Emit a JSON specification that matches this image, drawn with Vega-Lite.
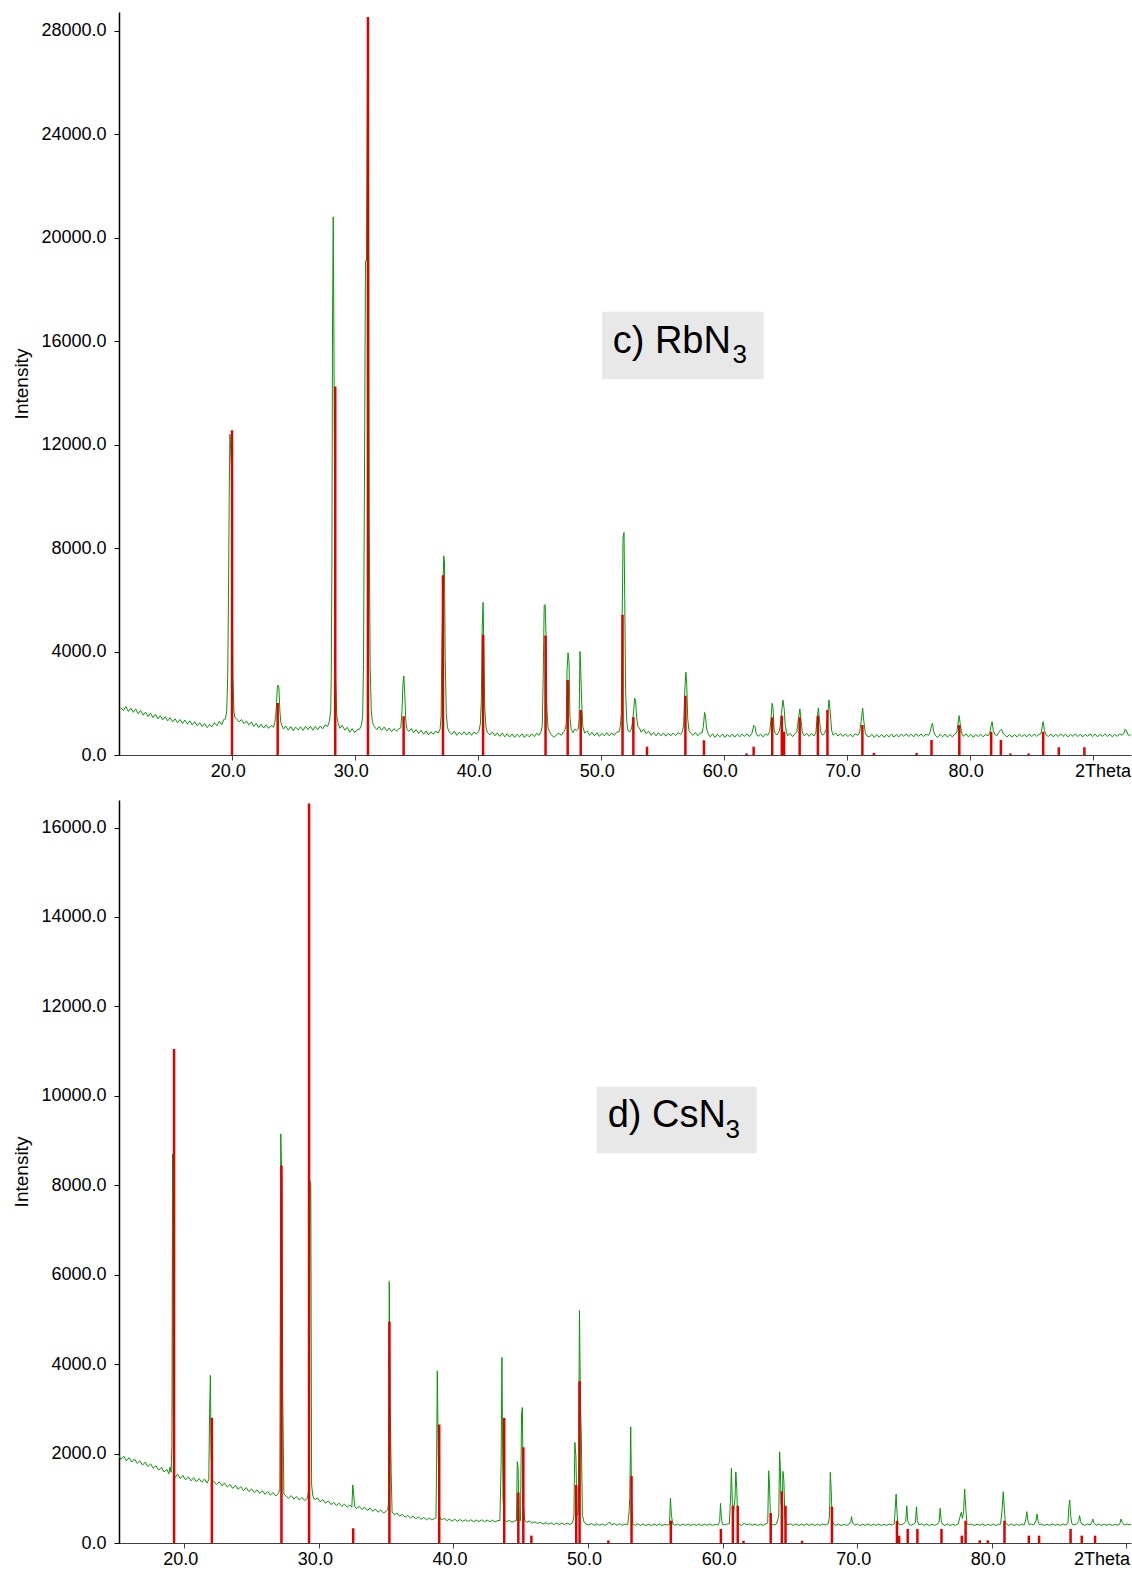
{
  "$schema": "https://vega.github.io/schema/vega-lite/v6.json",
  "padding": {"left": 12, "top": 12, "right": 2, "bottom": 2},
  "background": "white",
  "spacing": 45,
  "bounds": "flush",
  "config": {
    "view": {"stroke": null},
    "font": "Liberation Sans",
    "axis": {
      "grid": false,
      "labelFont": "Liberation Sans",
      "labelFontSize": 18,
      "labelColor": "#000000",
      "titleFont": "Liberation Sans",
      "titleFontWeight": "normal",
      "titleColor": "#000000",
      "tickSize": 5,
      "labelOverlap": false
    },
    "axisX": {"labelFlush": false, "labelPadding": 2, "domainColor": "#404040", "tickColor": "#404040"},
    "axisY": {"labelPadding": 8, "domainColor": "#000000", "tickColor": "#000000", "domainWidth": 1.5, "titleFontSize": 19, "titlePadding": 9}
  },
  "datasets": {
    "rb_profile": [
      {"t":11.0,"i":1820},{"t":11.2,"i":1720},{"t":11.4,"i":1870},{"t":11.6,"i":1680},{"t":11.8,"i":1810},{"t":12.0,"i":1650},{"t":12.2,"i":1780},{"t":12.4,"i":1600},{"t":12.6,"i":1720},{"t":12.8,"i":1540},{"t":13.0,"i":1660},{"t":13.2,"i":1490},{"t":13.4,"i":1620},{"t":13.6,"i":1440},{"t":13.8,"i":1570},{"t":14.0,"i":1400},{"t":14.2,"i":1520},{"t":14.4,"i":1360},{"t":14.6,"i":1480},{"t":14.8,"i":1320},{"t":15.0,"i":1440},{"t":15.2,"i":1280},{"t":15.4,"i":1400},{"t":15.6,"i":1250},{"t":15.8,"i":1370},{"t":16.0,"i":1220},{"t":16.2,"i":1350},{"t":16.4,"i":1190},{"t":16.6,"i":1320},{"t":16.8,"i":1160},{"t":17.0,"i":1290},{"t":17.2,"i":1130},{"t":17.4,"i":1250},{"t":17.6,"i":1100},{"t":17.8,"i":1220},{"t":18.0,"i":1060},{"t":18.2,"i":1180},{"t":18.4,"i":1090},{"t":18.6,"i":1250},{"t":18.8,"i":1130},{"t":19.0,"i":1300},{"t":19.2,"i":1170},{"t":19.35,"i":1370},{"t":19.5,"i":1400},
      {"t":19.6,"i":1700},{"t":19.68,"i":3100},{"t":19.74,"i":6000},{"t":19.8,"i":10000},{"t":19.86,"i":12400},{"t":19.92,"i":11800},{"t":19.98,"i":11200},{"t":20.04,"i":7800},{"t":20.1,"i":3000},{"t":20.18,"i":1700},{"t":20.26,"i":1450},
      {"t":20.4,"i":1400},{"t":20.6,"i":1280},{"t":20.8,"i":1370},{"t":21.0,"i":1210},{"t":21.2,"i":1320},{"t":21.4,"i":1160},{"t":21.6,"i":1280},{"t":21.8,"i":1100},{"t":22.0,"i":1220},{"t":22.2,"i":1060},{"t":22.4,"i":1190},{"t":22.6,"i":1040},{"t":22.8,"i":1170},{"t":23.0,"i":1030},{"t":23.2,"i":1140},{"t":23.4,"i":1070},
      {"t":23.5,"i":1250},{"t":23.58,"i":1500},{"t":23.64,"i":1900},{"t":23.7,"i":2500},{"t":23.76,"i":2700},{"t":23.84,"i":2600},{"t":23.92,"i":1700},{"t":24.0,"i":1250},
      {"t":24.2,"i":1000},{"t":24.4,"i":1120},{"t":24.6,"i":960},{"t":24.8,"i":1100},{"t":25.0,"i":940},{"t":25.2,"i":1080},{"t":25.4,"i":970},{"t":25.6,"i":1090},{"t":25.8,"i":950},{"t":26.0,"i":1100},{"t":26.2,"i":980},{"t":26.4,"i":1110},{"t":26.6,"i":960},{"t":26.8,"i":1100},{"t":27.0,"i":980},{"t":27.2,"i":1120},{"t":27.4,"i":1010},{"t":27.6,"i":1170},{"t":27.8,"i":1100},{"t":27.95,"i":1300},
      {"t":28.05,"i":1700},{"t":28.1,"i":3200},{"t":28.15,"i":7500},{"t":28.2,"i":16700},{"t":28.26,"i":20800},{"t":28.32,"i":15400},{"t":28.38,"i":8000},{"t":28.45,"i":3000},{"t":28.55,"i":1500},{"t":28.65,"i":1250},
      {"t":28.8,"i":1030},{"t":29.0,"i":1140},{"t":29.2,"i":960},{"t":29.4,"i":1070},{"t":29.6,"i":880},{"t":29.8,"i":1020},{"t":30.0,"i":860},{"t":30.2,"i":980},{"t":30.4,"i":1000},{"t":30.55,"i":1150},
      {"t":30.65,"i":1500},{"t":30.72,"i":3500},{"t":30.8,"i":10900},{"t":30.88,"i":19100},{"t":30.96,"i":19100},{"t":31.04,"i":26000},{"t":31.12,"i":28000},{"t":31.18,"i":9200},{"t":31.26,"i":3500},{"t":31.35,"i":1700},{"t":31.45,"i":1250},
      {"t":31.6,"i":1100},{"t":31.8,"i":980},{"t":32.0,"i":1100},{"t":32.2,"i":960},{"t":32.4,"i":1080},{"t":32.6,"i":930},{"t":32.8,"i":1040},{"t":33.0,"i":900},{"t":33.2,"i":1020},{"t":33.4,"i":920},{"t":33.6,"i":1020},
      {"t":33.75,"i":1050},{"t":33.85,"i":1700},{"t":33.93,"i":2800},{"t":34.0,"i":3050},{"t":34.08,"i":2300},{"t":34.16,"i":1300},{"t":34.25,"i":1000},
      {"t":34.4,"i":910},{"t":34.6,"i":1020},{"t":34.8,"i":860},{"t":35.0,"i":980},{"t":35.2,"i":830},{"t":35.4,"i":960},{"t":35.6,"i":800},{"t":35.8,"i":930},{"t":36.0,"i":780},{"t":36.2,"i":900},{"t":36.4,"i":800},{"t":36.6,"i":920},{"t":36.8,"i":850},
      {"t":36.95,"i":1000},{"t":37.03,"i":1500},{"t":37.1,"i":4300},{"t":37.17,"i":6200},{"t":37.24,"i":7700},{"t":37.3,"i":7500},{"t":37.36,"i":3800},{"t":37.45,"i":1600},{"t":37.55,"i":1050},
      {"t":37.7,"i":880},{"t":37.9,"i":800},{"t":38.1,"i":920},{"t":38.3,"i":760},{"t":38.5,"i":880},{"t":38.7,"i":780},{"t":38.9,"i":900},{"t":39.1,"i":770},{"t":39.3,"i":890},{"t":39.5,"i":760},{"t":39.7,"i":880},{"t":39.9,"i":820},{"t":40.1,"i":920},
      {"t":40.22,"i":1200},{"t":40.3,"i":2100},{"t":40.37,"i":4900},{"t":40.44,"i":5900},{"t":40.5,"i":4300},{"t":40.58,"i":1800},{"t":40.68,"i":1050},
      {"t":40.8,"i":860},{"t":41.0,"i":780},{"t":41.2,"i":890},{"t":41.4,"i":740},{"t":41.6,"i":860},{"t":41.8,"i":720},{"t":42.0,"i":850},{"t":42.2,"i":700},{"t":42.4,"i":820},{"t":42.6,"i":690},{"t":42.8,"i":810},{"t":43.0,"i":680},{"t":43.2,"i":800},{"t":43.4,"i":700},{"t":43.6,"i":820},{"t":43.8,"i":680},{"t":44.0,"i":800},{"t":44.2,"i":700},{"t":44.4,"i":820},{"t":44.6,"i":710},{"t":44.8,"i":840},{"t":45.0,"i":760},
      {"t":45.15,"i":900},{"t":45.25,"i":1100},{"t":45.33,"i":3000},{"t":45.41,"i":5800},{"t":45.49,"i":5800},{"t":45.56,"i":4600},{"t":45.63,"i":1800},{"t":45.72,"i":1050},
      {"t":45.85,"i":900},{"t":46.0,"i":780},{"t":46.2,"i":680},{"t":46.4,"i":780},{"t":46.6,"i":840},{"t":46.8,"i":760},{"t":47.0,"i":900},
      {"t":47.12,"i":1000},{"t":47.2,"i":1200},{"t":47.27,"i":3300},{"t":47.35,"i":3950},{"t":47.43,"i":3600},{"t":47.5,"i":1500},{"t":47.6,"i":1000},
      {"t":47.75,"i":860},{"t":47.9,"i":1000},{"t":48.05,"i":940},
      {"t":48.18,"i":1000},{"t":48.25,"i":1400},{"t":48.32,"i":4000},{"t":48.38,"i":3300},{"t":48.46,"i":2000},{"t":48.55,"i":1100},
      {"t":48.7,"i":850},{"t":48.9,"i":920},{"t":49.1,"i":760},{"t":49.3,"i":880},{"t":49.5,"i":740},{"t":49.7,"i":860},{"t":49.9,"i":720},{"t":50.1,"i":840},{"t":50.3,"i":740},{"t":50.5,"i":860},{"t":50.7,"i":740},{"t":50.9,"i":850},{"t":51.1,"i":760},{"t":51.3,"i":880},{"t":51.5,"i":900},
      {"t":51.6,"i":1100},{"t":51.68,"i":1600},{"t":51.75,"i":5300},{"t":51.82,"i":8400},{"t":51.9,"i":8600},{"t":51.96,"i":6000},{"t":52.03,"i":2500},{"t":52.12,"i":1300},{"t":52.22,"i":950},
      {"t":52.35,"i":880},{"t":52.5,"i":1000},
      {"t":52.6,"i":1300},{"t":52.68,"i":1700},{"t":52.76,"i":2200},{"t":52.84,"i":2100},{"t":52.92,"i":1500},{"t":53.02,"i":1100},
      {"t":53.15,"i":1050},{"t":53.3,"i":880},{"t":53.5,"i":1000},{"t":53.7,"i":830},{"t":53.9,"i":920},{"t":54.1,"i":760},{"t":54.3,"i":870},{"t":54.5,"i":740},{"t":54.7,"i":860},{"t":54.9,"i":740},{"t":55.1,"i":850},{"t":55.3,"i":730},{"t":55.5,"i":840},{"t":55.7,"i":740},{"t":55.9,"i":850},{"t":56.1,"i":750},{"t":56.3,"i":860},{"t":56.5,"i":790},
      {"t":56.65,"i":900},{"t":56.75,"i":1200},{"t":56.85,"i":2600},{"t":56.93,"i":3200},{"t":57.0,"i":2700},{"t":57.08,"i":1400},{"t":57.18,"i":950},
      {"t":57.3,"i":850},{"t":57.5,"i":760},{"t":57.7,"i":870},{"t":57.9,"i":740},{"t":58.1,"i":850},
      {"t":58.25,"i":850},{"t":58.35,"i":1100},{"t":58.45,"i":1650},{"t":58.52,"i":1500},{"t":58.62,"i":1000},{"t":58.75,"i":820},
      {"t":58.9,"i":700},{"t":59.1,"i":820},{"t":59.3,"i":680},{"t":59.5,"i":800},{"t":59.7,"i":700},{"t":59.9,"i":810},{"t":60.1,"i":680},{"t":60.3,"i":790},{"t":60.5,"i":700},{"t":60.7,"i":810},{"t":60.9,"i":690},{"t":61.1,"i":800},{"t":61.3,"i":700},{"t":61.5,"i":810},{"t":61.7,"i":720},{"t":61.9,"i":820},{"t":62.1,"i":710},{"t":62.3,"i":840},
      {"t":62.45,"i":1150},{"t":62.55,"i":1100},{"t":62.65,"i":820},
      {"t":62.8,"i":720},{"t":63.0,"i":810},{"t":63.2,"i":700},{"t":63.4,"i":820},{"t":63.6,"i":760},
      {"t":63.75,"i":900},{"t":63.85,"i":1400},{"t":63.94,"i":2000},{"t":64.02,"i":1800},{"t":64.1,"i":1000},{"t":64.2,"i":820},
      {"t":64.35,"i":780},{"t":64.5,"i":900},
      {"t":64.6,"i":1100},{"t":64.7,"i":1600},{"t":64.82,"i":2130},{"t":64.92,"i":1800},{"t":65.0,"i":1200},{"t":65.1,"i":900},
      {"t":65.2,"i":740},{"t":65.4,"i":840},{"t":65.6,"i":710},{"t":65.8,"i":820},
      {"t":65.95,"i":900},{"t":66.08,"i":1400},{"t":66.2,"i":1780},{"t":66.3,"i":1300},{"t":66.4,"i":850},
      {"t":66.55,"i":740},{"t":66.75,"i":840},{"t":66.95,"i":720},{"t":67.15,"i":830},{"t":67.35,"i":730},
      {"t":67.5,"i":880},{"t":67.6,"i":1400},{"t":67.7,"i":1820},{"t":67.8,"i":1300},{"t":67.9,"i":880},
      {"t":68.05,"i":760},{"t":68.2,"i":840},
      {"t":68.35,"i":1000},{"t":68.45,"i":1500},{"t":68.56,"i":2130},{"t":68.66,"i":1700},{"t":68.78,"i":950},
      {"t":68.9,"i":760},{"t":69.1,"i":850},{"t":69.3,"i":730},{"t":69.5,"i":830},{"t":69.7,"i":720},{"t":69.9,"i":820},{"t":70.1,"i":710},{"t":70.3,"i":810},{"t":70.5,"i":700},{"t":70.7,"i":820},{"t":70.9,"i":760},
      {"t":71.05,"i":850},{"t":71.18,"i":1300},{"t":71.3,"i":1820},{"t":71.4,"i":1300},{"t":71.52,"i":850},
      {"t":71.65,"i":740},{"t":71.85,"i":700},{"t":72.05,"i":800},{"t":72.25,"i":680},{"t":72.45,"i":790},{"t":72.65,"i":690},{"t":72.85,"i":800},{"t":73.05,"i":680},{"t":73.25,"i":790},{"t":73.45,"i":700},{"t":73.65,"i":810},{"t":73.85,"i":690},{"t":74.05,"i":800},{"t":74.25,"i":700},{"t":74.45,"i":810},{"t":74.65,"i":720},{"t":74.85,"i":820},{"t":75.05,"i":710},{"t":75.25,"i":810},{"t":75.45,"i":700},{"t":75.65,"i":820},{"t":75.85,"i":720},{"t":76.05,"i":820},{"t":76.25,"i":710},{"t":76.45,"i":810},{"t":76.65,"i":760},
      {"t":76.8,"i":900},{"t":76.9,"i":1150},{"t":76.98,"i":1230},{"t":77.08,"i":900},
      {"t":77.2,"i":760},{"t":77.4,"i":680},{"t":77.6,"i":800},{"t":77.8,"i":700},{"t":78.0,"i":810},{"t":78.2,"i":690},{"t":78.4,"i":790},{"t":78.6,"i":700},{"t":78.8,"i":820},
      {"t":78.95,"i":850},{"t":79.05,"i":1200},{"t":79.15,"i":1520},{"t":79.25,"i":1150},{"t":79.35,"i":850},
      {"t":79.5,"i":720},{"t":79.7,"i":820},{"t":79.9,"i":700},{"t":80.1,"i":800},{"t":80.3,"i":680},{"t":80.5,"i":790},{"t":80.7,"i":710},{"t":80.9,"i":810},{"t":81.1,"i":700},{"t":81.3,"i":800},{"t":81.5,"i":740},
      {"t":81.65,"i":850},{"t":81.75,"i":1150},{"t":81.83,"i":1290},{"t":81.92,"i":950},
      {"t":82.05,"i":800},{"t":82.2,"i":740},{"t":82.35,"i":860},{"t":82.5,"i":950},{"t":82.6,"i":1000},{"t":82.7,"i":850},
      {"t":82.85,"i":770},{"t":83.05,"i":700},{"t":83.25,"i":800},{"t":83.45,"i":690},{"t":83.65,"i":790},{"t":83.85,"i":700},{"t":84.05,"i":810},{"t":84.25,"i":710},{"t":84.45,"i":800},{"t":84.65,"i":700},{"t":84.85,"i":810},{"t":85.05,"i":710},{"t":85.25,"i":810},{"t":85.45,"i":720},{"t":85.65,"i":800},
      {"t":85.8,"i":820},{"t":85.9,"i":1100},{"t":85.98,"i":1290},{"t":86.08,"i":950},
      {"t":86.2,"i":790},{"t":86.4,"i":710},{"t":86.6,"i":810},{"t":86.8,"i":700},{"t":87.0,"i":800},{"t":87.2,"i":710},{"t":87.4,"i":820},{"t":87.6,"i":720},{"t":87.8,"i":810},{"t":88.0,"i":700},{"t":88.2,"i":800},{"t":88.4,"i":720},{"t":88.6,"i":820},{"t":88.8,"i":710},{"t":89.0,"i":810},{"t":89.2,"i":700},{"t":89.4,"i":800},{"t":89.6,"i":720},{"t":89.8,"i":820},{"t":90.0,"i":710},{"t":90.2,"i":810},{"t":90.4,"i":700},{"t":90.6,"i":800},{"t":90.8,"i":720},{"t":91.0,"i":820},{"t":91.2,"i":710},{"t":91.4,"i":810},{"t":91.6,"i":700},{"t":91.8,"i":800},{"t":92.0,"i":720},{"t":92.2,"i":820},{"t":92.4,"i":760},
      {"t":92.55,"i":850},{"t":92.65,"i":1000},{"t":92.75,"i":950},{"t":92.85,"i":800},
      {"t":93.0,"i":740},{"t":93.1,"i":800}
    ],
    "rb_sticks": [
      {"t":20.03,"i":12550},{"t":23.74,"i":2010},{"t":28.42,"i":14250},{"t":31.08,"i":28530},{"t":33.98,"i":1500},{"t":37.18,"i":6950},{"t":40.44,"i":4650},{"t":45.52,"i":4620},{"t":47.32,"i":2900},{"t":48.38,"i":1740},{"t":51.78,"i":5420},{"t":52.66,"i":1460},{"t":53.77,"i":320},{"t":56.89,"i":2290},{"t":58.4,"i":570},{"t":61.86,"i":60},{"t":62.44,"i":320},{"t":63.95,"i":1460},{"t":64.73,"i":1520},{"t":64.91,"i":900},{"t":66.18,"i":1460},{"t":67.66,"i":1520},{"t":68.44,"i":1740},{"t":71.28,"i":1160},{"t":72.22,"i":80},{"t":75.69,"i":80},{"t":76.9,"i":580},{"t":79.16,"i":1160},{"t":81.75,"i":900},{"t":82.54,"i":580},{"t":83.32,"i":60},{"t":84.8,"i":60},{"t":85.98,"i":900},{"t":87.25,"i":300},{"t":89.33,"i":300}
    ],
    "cs_profile": [
      {"t":15.15,"i":1950},{"t":15.3,"i":1870},{"t":15.5,"i":1940},{"t":15.7,"i":1840},{"t":15.9,"i":1910},{"t":16.1,"i":1810},{"t":16.3,"i":1880},{"t":16.5,"i":1780},{"t":16.7,"i":1840},{"t":16.9,"i":1740},{"t":17.1,"i":1810},{"t":17.3,"i":1710},{"t":17.5,"i":1770},{"t":17.7,"i":1670},{"t":17.9,"i":1730},{"t":18.1,"i":1630},{"t":18.3,"i":1690},{"t":18.5,"i":1590},{"t":18.7,"i":1650},{"t":18.85,"i":1550},{"t":18.95,"i":1700},{"t":19.02,"i":1580},
      {"t":19.08,"i":2200},{"t":19.13,"i":8700},{"t":19.18,"i":3000},{"t":19.24,"i":1520},
      {"t":19.35,"i":1470},{"t":19.5,"i":1540},{"t":19.7,"i":1440},{"t":19.9,"i":1510},{"t":20.1,"i":1410},{"t":20.3,"i":1480},{"t":20.5,"i":1390},{"t":20.7,"i":1460},{"t":20.9,"i":1370},{"t":21.1,"i":1440},{"t":21.3,"i":1360},{"t":21.5,"i":1430},{"t":21.7,"i":1340},
      {"t":21.82,"i":1420},{"t":21.88,"i":2900},{"t":21.94,"i":3750},{"t":22.0,"i":2000},{"t":22.07,"i":1420},
      {"t":22.2,"i":1370},{"t":22.4,"i":1310},{"t":22.6,"i":1370},{"t":22.8,"i":1280},{"t":23.0,"i":1340},{"t":23.2,"i":1250},{"t":23.4,"i":1310},{"t":23.6,"i":1220},{"t":23.8,"i":1290},{"t":24.0,"i":1200},{"t":24.2,"i":1260},{"t":24.4,"i":1170},{"t":24.6,"i":1240},{"t":24.8,"i":1150},{"t":25.0,"i":1210},{"t":25.2,"i":1130},{"t":25.4,"i":1190},{"t":25.6,"i":1110},{"t":25.8,"i":1170},{"t":26.0,"i":1090},{"t":26.2,"i":1150},{"t":26.4,"i":1070},{"t":26.6,"i":1130},{"t":26.8,"i":1050},{"t":27.0,"i":1110},
      {"t":27.1,"i":1200},{"t":27.17,"i":9150},{"t":27.25,"i":8000},{"t":27.32,"i":3150},{"t":27.4,"i":1100},
      {"t":27.55,"i":1050},{"t":27.75,"i":1000},{"t":27.95,"i":1060},{"t":28.15,"i":980},{"t":28.35,"i":1040},{"t":28.55,"i":960},{"t":28.75,"i":1020},{"t":28.95,"i":950},{"t":29.15,"i":1000},
      {"t":29.25,"i":1200},{"t":29.33,"i":8100},{"t":29.4,"i":8000},{"t":29.46,"i":1300},{"t":29.55,"i":1050},
      {"t":29.7,"i":970},{"t":29.9,"i":1010},{"t":30.1,"i":920},{"t":30.3,"i":970},{"t":30.5,"i":890},{"t":30.7,"i":940},{"t":30.9,"i":860},{"t":31.1,"i":910},{"t":31.3,"i":840},{"t":31.5,"i":890},{"t":31.7,"i":820},{"t":31.9,"i":870},{"t":32.1,"i":800},{"t":32.3,"i":850},
      {"t":32.45,"i":800},{"t":32.52,"i":1300},{"t":32.58,"i":1100},{"t":32.66,"i":820},
      {"t":32.8,"i":770},{"t":33.0,"i":820},{"t":33.2,"i":750},{"t":33.4,"i":800},{"t":33.6,"i":730},{"t":33.8,"i":780},{"t":34.0,"i":710},{"t":34.2,"i":760},{"t":34.4,"i":690},{"t":34.6,"i":740},{"t":34.8,"i":670},{"t":35.0,"i":710},
      {"t":35.12,"i":750},{"t":35.18,"i":900},{"t":35.23,"i":5850},{"t":35.3,"i":3000},{"t":35.37,"i":1600},{"t":35.44,"i":700},
      {"t":35.6,"i":630},{"t":35.8,"i":670},{"t":36.0,"i":600},{"t":36.2,"i":640},{"t":36.4,"i":580},{"t":36.6,"i":620},{"t":36.8,"i":560},{"t":37.0,"i":600},{"t":37.2,"i":545},{"t":37.4,"i":580},{"t":37.6,"i":530},{"t":37.8,"i":570},{"t":38.0,"i":520},{"t":38.2,"i":560},{"t":38.4,"i":515},{"t":38.6,"i":550},
      {"t":38.7,"i":560},{"t":38.74,"i":1540},{"t":38.8,"i":3850},{"t":38.87,"i":2000},{"t":38.95,"i":600},
      {"t":39.1,"i":515},{"t":39.3,"i":550},{"t":39.5,"i":500},{"t":39.7,"i":535},{"t":39.9,"i":490},{"t":40.1,"i":530},{"t":40.3,"i":485},{"t":40.5,"i":525},{"t":40.7,"i":485},{"t":40.9,"i":520},{"t":41.1,"i":480},{"t":41.3,"i":520},{"t":41.5,"i":475},{"t":41.7,"i":515},{"t":41.9,"i":480},{"t":42.1,"i":520},{"t":42.3,"i":475},{"t":42.5,"i":515},{"t":42.7,"i":475},{"t":42.9,"i":510},{"t":43.1,"i":470},{"t":43.3,"i":505},
      {"t":43.45,"i":500},{"t":43.54,"i":1760},{"t":43.6,"i":4150},{"t":43.68,"i":1000},{"t":43.78,"i":520},
      {"t":43.95,"i":475},{"t":44.15,"i":505},{"t":44.35,"i":465},{"t":44.55,"i":495},
      {"t":44.68,"i":500},{"t":44.74,"i":1820},{"t":44.8,"i":1700},{"t":44.87,"i":520},
      {"t":44.98,"i":500},{"t":45.06,"i":2900},{"t":45.12,"i":3030},{"t":45.2,"i":800},{"t":45.3,"i":500},
      {"t":45.45,"i":465},{"t":45.65,"i":490},{"t":45.85,"i":445},{"t":46.05,"i":475},{"t":46.25,"i":435},{"t":46.45,"i":465},{"t":46.65,"i":425},{"t":46.85,"i":455},{"t":47.05,"i":420},{"t":47.25,"i":450},{"t":47.45,"i":415},{"t":47.65,"i":445},{"t":47.85,"i":415},{"t":48.05,"i":445},{"t":48.25,"i":410},{"t":48.45,"i":445},{"t":48.65,"i":415},{"t":48.85,"i":450},
      {"t":48.95,"i":600},{"t":49.02,"i":2250},{"t":49.1,"i":1920},{"t":49.18,"i":620},{"t":49.28,"i":700},{"t":49.36,"i":5200},{"t":49.44,"i":3000},{"t":49.5,"i":2390},{"t":49.58,"i":620},{"t":49.7,"i":470},
      {"t":49.85,"i":425},{"t":50.05,"i":405},{"t":50.25,"i":435},{"t":50.45,"i":395},{"t":50.65,"i":430},{"t":50.85,"i":395},{"t":51.05,"i":425},{"t":51.25,"i":395},{"t":51.45,"i":430},{"t":51.6,"i":470},{"t":51.75,"i":405},{"t":51.95,"i":435},{"t":52.15,"i":395},{"t":52.35,"i":430},{"t":52.55,"i":395},{"t":52.75,"i":425},{"t":52.95,"i":410},
      {"t":53.05,"i":700},{"t":53.1,"i":1020},{"t":53.17,"i":2600},{"t":53.24,"i":900},{"t":53.32,"i":430},
      {"t":53.5,"i":395},{"t":53.7,"i":430},{"t":53.9,"i":395},{"t":54.1,"i":425},{"t":54.3,"i":390},{"t":54.5,"i":420},{"t":54.7,"i":390},{"t":54.9,"i":425},{"t":55.1,"i":395},{"t":55.3,"i":425},{"t":55.5,"i":390},{"t":55.7,"i":420},{"t":55.9,"i":400},
      {"t":56.05,"i":420},{"t":56.12,"i":1000},{"t":56.2,"i":600},{"t":56.3,"i":420},
      {"t":56.45,"i":395},{"t":56.65,"i":420},{"t":56.85,"i":390},{"t":57.05,"i":425},{"t":57.25,"i":395},{"t":57.45,"i":425},{"t":57.65,"i":390},{"t":57.85,"i":420},{"t":58.05,"i":395},{"t":58.25,"i":425},{"t":58.45,"i":390},{"t":58.65,"i":420},{"t":58.85,"i":395},{"t":59.05,"i":425},{"t":59.25,"i":390},{"t":59.45,"i":420},{"t":59.65,"i":400},
      {"t":59.78,"i":480},{"t":59.84,"i":886},{"t":59.9,"i":600},{"t":59.98,"i":420},
      {"t":60.15,"i":405},{"t":60.35,"i":425},
      {"t":60.5,"i":430},{"t":60.6,"i":1100},{"t":60.65,"i":1670},{"t":60.72,"i":900},{"t":60.82,"i":700},{"t":60.92,"i":1000},{"t":60.98,"i":1590},{"t":61.05,"i":1200},{"t":61.12,"i":500},{"t":61.22,"i":420},
      {"t":61.4,"i":395},{"t":61.6,"i":440},{"t":61.8,"i":405},{"t":62.0,"i":430},{"t":62.2,"i":395},{"t":62.4,"i":425},{"t":62.6,"i":390},{"t":62.8,"i":420},{"t":63.0,"i":395},{"t":63.2,"i":425},
      {"t":63.35,"i":450},{"t":63.42,"i":1615},{"t":63.48,"i":1300},{"t":63.56,"i":500},{"t":63.66,"i":420},
      {"t":63.8,"i":400},{"t":64.0,"i":425},
      {"t":64.17,"i":600},{"t":64.23,"i":2040},{"t":64.28,"i":1750},{"t":64.34,"i":900},{"t":64.42,"i":700},{"t":64.48,"i":1600},{"t":64.55,"i":1400},{"t":64.62,"i":600},{"t":64.72,"i":430},
      {"t":64.85,"i":405},{"t":65.05,"i":430},{"t":65.25,"i":395},{"t":65.45,"i":425},{"t":65.65,"i":390},{"t":65.85,"i":420},{"t":66.05,"i":395},{"t":66.25,"i":430},{"t":66.45,"i":395},{"t":66.65,"i":425},{"t":66.85,"i":390},{"t":67.05,"i":420},{"t":67.25,"i":395},{"t":67.45,"i":425},{"t":67.65,"i":400},{"t":67.85,"i":430},
      {"t":67.94,"i":600},{"t":68.0,"i":1580},{"t":68.06,"i":1200},{"t":68.14,"i":500},{"t":68.24,"i":420},
      {"t":68.4,"i":395},{"t":68.6,"i":425},{"t":68.8,"i":390},{"t":69.0,"i":420},{"t":69.2,"i":395},{"t":69.4,"i":425},
      {"t":69.52,"i":480},{"t":69.58,"i":588},{"t":69.65,"i":450},
      {"t":69.8,"i":400},{"t":70.0,"i":425},{"t":70.2,"i":390},{"t":70.4,"i":420},{"t":70.6,"i":395},{"t":70.8,"i":425},{"t":71.0,"i":390},{"t":71.2,"i":420},{"t":71.4,"i":395},{"t":71.6,"i":425},{"t":71.8,"i":390},{"t":72.0,"i":420},{"t":72.2,"i":395},{"t":72.4,"i":425},{"t":72.6,"i":400},
      {"t":72.75,"i":430},{"t":72.83,"i":800},{"t":72.89,"i":1094},{"t":72.95,"i":700},{"t":73.02,"i":450},{"t":73.1,"i":420},
      {"t":73.25,"i":405},{"t":73.45,"i":430},
      {"t":73.6,"i":480},{"t":73.68,"i":833},{"t":73.75,"i":500},{"t":73.85,"i":420},
      {"t":74.0,"i":395},{"t":74.2,"i":425},
      {"t":74.32,"i":450},{"t":74.4,"i":811},{"t":74.47,"i":500},{"t":74.57,"i":410},
      {"t":74.75,"i":425},{"t":74.95,"i":395},{"t":75.15,"i":425},{"t":75.35,"i":390},{"t":75.55,"i":420},{"t":75.75,"i":395},{"t":75.95,"i":425},
      {"t":76.08,"i":460},{"t":76.16,"i":774},{"t":76.24,"i":500},{"t":76.34,"i":420},
      {"t":76.5,"i":395},{"t":76.7,"i":425},{"t":76.9,"i":390},{"t":77.1,"i":420},{"t":77.3,"i":395},{"t":77.5,"i":425},
      {"t":77.65,"i":600},{"t":77.73,"i":685},{"t":77.82,"i":550},{"t":77.9,"i":700},{"t":77.98,"i":1206},{"t":78.06,"i":800},{"t":78.15,"i":430},
      {"t":78.3,"i":405},{"t":78.5,"i":425},{"t":78.7,"i":390},{"t":78.9,"i":420},{"t":79.1,"i":395},{"t":79.3,"i":425},{"t":79.5,"i":390},{"t":79.7,"i":420},{"t":79.9,"i":395},{"t":80.1,"i":425},{"t":80.3,"i":390},{"t":80.5,"i":420},
      {"t":80.65,"i":420},{"t":80.75,"i":700},{"t":80.85,"i":1146},{"t":80.92,"i":800},{"t":81.0,"i":450},{"t":81.1,"i":420},
      {"t":81.25,"i":395},{"t":81.45,"i":425},{"t":81.65,"i":390},{"t":81.85,"i":420},{"t":82.05,"i":395},{"t":82.25,"i":425},{"t":82.4,"i":400},
      {"t":82.52,"i":520},{"t":82.6,"i":700},{"t":82.68,"i":500},{"t":82.78,"i":410},
      {"t":82.95,"i":425},{"t":83.1,"i":400},
      {"t":83.28,"i":500},{"t":83.36,"i":648},{"t":83.44,"i":480},{"t":83.54,"i":410},
      {"t":83.7,"i":425},{"t":83.9,"i":390},{"t":84.1,"i":420},{"t":84.3,"i":395},{"t":84.5,"i":425},{"t":84.7,"i":395},{"t":84.9,"i":420},{"t":85.1,"i":395},{"t":85.3,"i":425},{"t":85.5,"i":400},
      {"t":85.65,"i":450},{"t":85.72,"i":800},{"t":85.79,"i":960},{"t":85.86,"i":600},{"t":85.95,"i":430},
      {"t":86.1,"i":405},{"t":86.3,"i":425},
      {"t":86.45,"i":480},{"t":86.52,"i":610},{"t":86.6,"i":480},{"t":86.7,"i":420},
      {"t":86.9,"i":395},{"t":87.1,"i":425},{"t":87.3,"i":400},
      {"t":87.42,"i":460},{"t":87.5,"i":536},{"t":87.58,"i":450},
      {"t":87.75,"i":395},{"t":87.95,"i":425},{"t":88.15,"i":390},{"t":88.35,"i":420},{"t":88.55,"i":395},{"t":88.75,"i":425},{"t":88.95,"i":390},{"t":89.15,"i":420},{"t":89.35,"i":400},
      {"t":89.5,"i":420},{"t":89.6,"i":536},{"t":89.7,"i":460},
      {"t":89.85,"i":400},{"t":90.05,"i":425},{"t":90.25,"i":405},{"t":90.34,"i":420}
    ],
    "cs_sticks": [
      {"t":19.24,"i":11050},{"t":22.05,"i":2800},{"t":27.22,"i":8440},{"t":29.27,"i":16540},{"t":32.55,"i":330},{"t":35.24,"i":4950},{"t":38.94,"i":2650},{"t":43.77,"i":2800},{"t":44.82,"i":1130},{"t":45.19,"i":2140},{"t":45.79,"i":165},{"t":49.12,"i":1295},{"t":49.37,"i":3620},{"t":51.51,"i":60},{"t":53.23,"i":1500},{"t":56.15,"i":500},{"t":59.87,"i":313},{"t":60.76,"i":833},{"t":61.12,"i":833},{"t":61.55,"i":50},{"t":63.57,"i":670},{"t":64.4,"i":1154},{"t":64.67,"i":833},{"t":65.9,"i":50},{"t":68.12,"i":811},{"t":72.95,"i":498},{"t":73.11,"i":164},{"t":73.75,"i":313},{"t":74.47,"i":313},{"t":76.26,"i":313},{"t":77.77,"i":164},{"t":78.05,"i":498},{"t":79.1,"i":60},{"t":79.7,"i":60},{"t":80.94,"i":498},{"t":82.75,"i":164},{"t":83.51,"i":164},{"t":85.85,"i":313},{"t":86.68,"i":164},{"t":87.67,"i":164}
    ]
  },
  "vconcat": [
    {
      "width": 1012,
      "height": 743,
      "layer": [
        {
          "data": {"name": "rb_profile"},
          "mark": {"type": "line", "color": "#0a960a", "strokeWidth": 1},
          "encoding": {
            "x": {"field": "t", "type": "quantitative", "scale": {"domain": [10.84, 93.12], "nice": false, "zero": false},
                  "axis": {"title": null, "values": [20, 30, 40, 50, 60, 70, 80, 90],
                           "labelExpr": "datum.value == 90 ? '2Theta' : format(datum.value, '.1f')",
                           "labelAlign": {"condition": {"test": "datum.value == 90", "value": "right"}, "value": "center"},
                           "labelOffset": {"condition": {"test": "datum.value == 90", "value": 38}, "value": -4}}},
            "y": {"field": "i", "type": "quantitative", "scale": {"domain": [0, 28723], "nice": false},
                  "axis": {"title": "Intensity", "values": [0, 4000, 8000, 12000, 16000, 20000, 24000, 28000], "format": ".1f"}}
          }
        },
        {
          "data": {"name": "rb_sticks"},
          "mark": {"type": "rule", "color": "#e00000", "strokeWidth": 2.5},
          "encoding": {
            "x": {"field": "t", "type": "quantitative"},
            "y": {"field": "i", "type": "quantitative"},
            "y2": {"datum": 0}
          }
        },
        {
          "data": {"values": [{}]},
          "mark": {"type": "rect", "color": "#e8e8e8"},
          "encoding": {
            "x": {"datum": 50.11, "type": "quantitative"},
            "x2": {"datum": 63.25},
            "y": {"datum": 17137, "type": "quantitative"},
            "y2": {"datum": 14524}
          }
        },
        {
          "data": {"values": [{}]},
          "mark": {"type": "text", "text": "c) RbN", "font": "Liberation Sans", "fontSize": 38, "align": "left", "baseline": "alphabetic", "color": "#000000"},
          "encoding": {
            "x": {"datum": 50.98, "type": "quantitative"},
            "y": {"datum": 15529, "type": "quantitative"}
          }
        },
        {
          "data": {"values": [{}]},
          "mark": {"type": "text", "text": "3", "font": "Liberation Sans", "fontSize": 26, "align": "left", "baseline": "alphabetic", "color": "#000000"},
          "encoding": {
            "x": {"datum": 60.73, "type": "quantitative"},
            "y": {"datum": 15143, "type": "quantitative"}
          }
        }
      ]
    },
    {
      "width": 1012,
      "height": 743,
      "layer": [
        {
          "data": {"name": "cs_profile"},
          "mark": {"type": "line", "color": "#0a960a", "strokeWidth": 1},
          "encoding": {
            "x": {"field": "t", "type": "quantitative", "scale": {"domain": [15.15, 90.34], "nice": false, "zero": false},
                  "axis": {"title": null, "values": [20, 30, 40, 50, 60, 70, 80, 90],
                           "labelExpr": "datum.value == 90 ? '2Theta' : format(datum.value, '.1f')",
                           "labelAlign": {"condition": {"test": "datum.value == 90", "value": "right"}, "value": "center"},
                           "labelOffset": {"condition": {"test": "datum.value == 90", "value": 3}, "value": -4}}},
            "y": {"field": "i", "type": "quantitative", "scale": {"domain": [0, 16616], "nice": false},
                  "axis": {"title": "Intensity", "values": [0, 2000, 4000, 6000, 8000, 10000, 12000, 14000, 16000], "format": ".1f"}}
          }
        },
        {
          "data": {"name": "cs_sticks"},
          "mark": {"type": "rule", "color": "#e00000", "strokeWidth": 2.5},
          "encoding": {
            "x": {"field": "t", "type": "quantitative"},
            "y": {"field": "i", "type": "quantitative"},
            "y2": {"datum": 0}
          }
        },
        {
          "data": {"values": [{}]},
          "mark": {"type": "rect", "color": "#e8e8e8"},
          "encoding": {
            "x": {"datum": 50.64, "type": "quantitative"},
            "x2": {"datum": 62.53},
            "y": {"datum": 10205, "type": "quantitative"},
            "y2": {"datum": 8715}
          }
        },
        {
          "data": {"values": [{}]},
          "mark": {"type": "text", "text": "d) CsN", "font": "Liberation Sans", "fontSize": 38, "align": "left", "baseline": "alphabetic", "color": "#000000"},
          "encoding": {
            "x": {"datum": 51.46, "type": "quantitative"},
            "y": {"datum": 9297, "type": "quantitative"}
          }
        },
        {
          "data": {"values": [{}]},
          "mark": {"type": "text", "text": "3", "font": "Liberation Sans", "fontSize": 26, "align": "left", "baseline": "alphabetic", "color": "#000000"},
          "encoding": {
            "x": {"datum": 60.22, "type": "quantitative"},
            "y": {"datum": 9064, "type": "quantitative"}
          }
        }
      ]
    }
  ]
}
